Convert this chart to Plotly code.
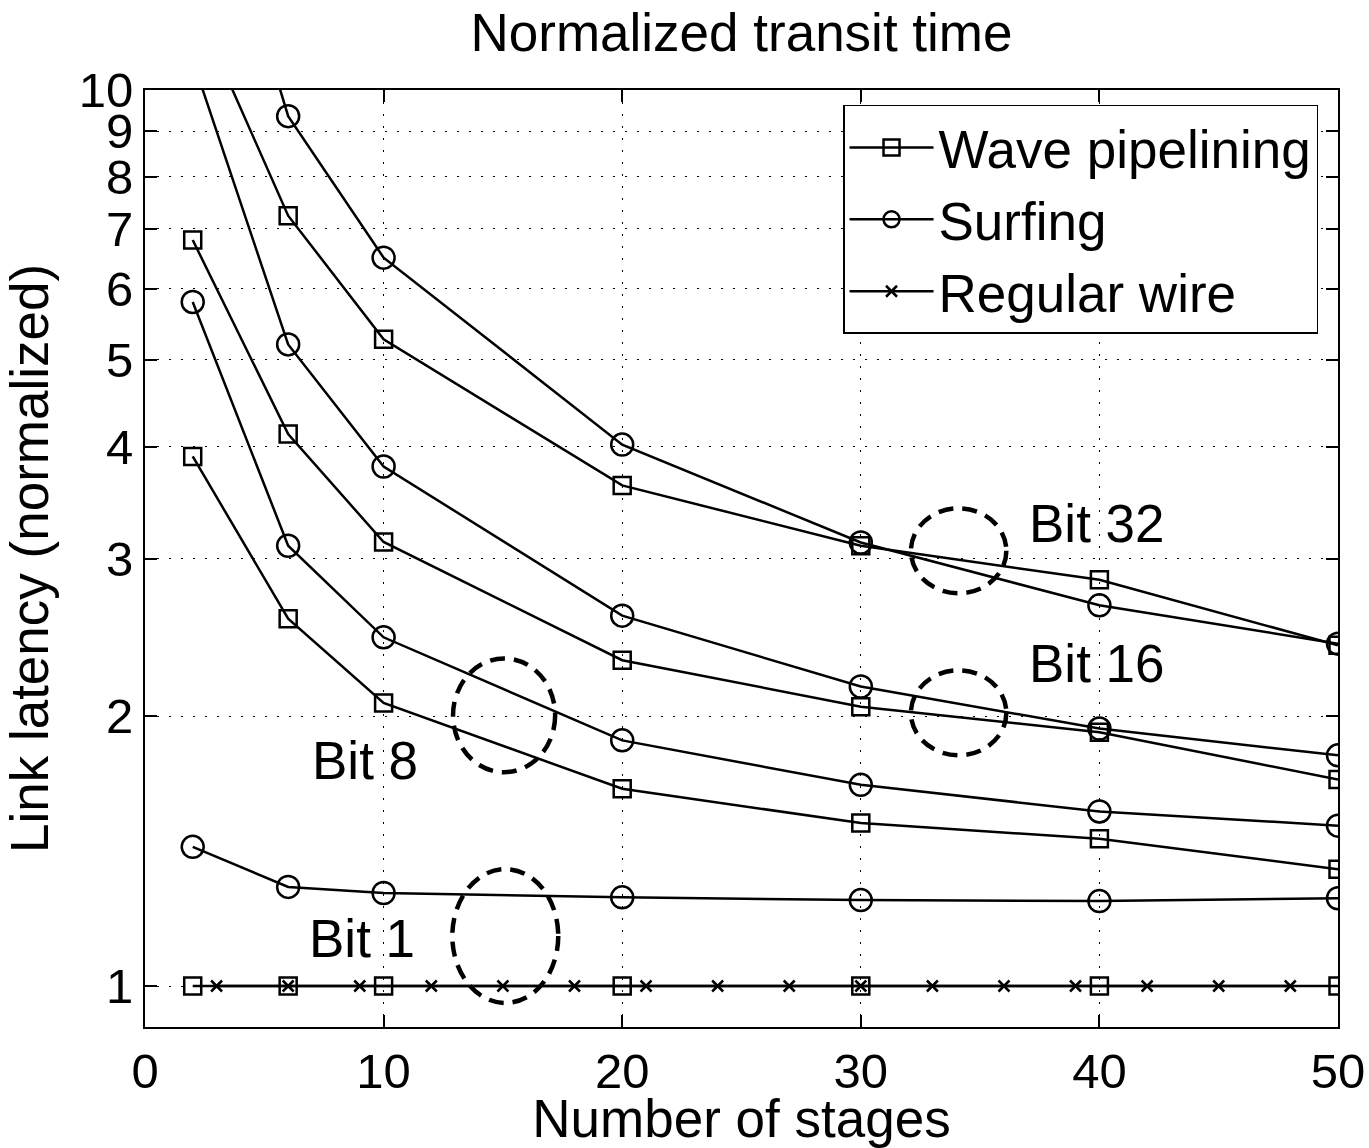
import math
import plotly.graph_objects as go

# ---------------- data ----------------
stages = [2, 6, 10, 20, 30, 40, 50]

wave_bit1 = [1.0, 1.0, 1.0, 1.0, 1.0, 1.0, 1.0]
wave_bit8 = [3.9, 2.57, 2.07, 1.66, 1.52, 1.46, 1.35]
wave_bit16 = [6.8, 4.13, 3.13, 2.31, 2.05, 1.92, 1.70]
wave_bit32 = [12.6, 7.24, 5.27, 3.62, 3.10, 2.84, 2.40]

surf_bit1 = [1.43, 1.29, 1.27, 1.256, 1.247, 1.244, 1.253]
surf_bit8 = [5.8, 3.10, 2.45, 1.88, 1.677, 1.566, 1.51]
surf_bit16 = [10.8, 5.2, 3.8, 2.59, 2.159, 1.938, 1.809]
surf_bit32 = [21.0, 9.35, 6.5, 4.02, 3.126, 2.66, 2.41]

wire_stages = [3, 6, 9, 12, 15, 18, 21, 24, 27, 30, 33, 36, 39, 42, 45, 48]
wire_latency = [1.0] * len(wire_stages)

x_ticks = [0, 10, 20, 30, 40, 50]
y_ticks = [1, 2, 3, 4, 5, 6, 7, 8, 9, 10]
y_range = [0.9, 10]

# group labels: (text, x, y)
group_labels = [("Bit 32", 39.9, 3.28), ("Bit 16", 39.9, 2.29),
                ("Bit 8", 9.2, 1.786), ("Bit 1", 9.1, 1.131)]
# dashed ellipses: (center x, center y, half width in x units, half height in decades)
group_rings = [(34.1, 3.06, 2.0, 0.0474), (34.1, 2.018, 2.0, 0.0474),
               (15.05, 2.005, 2.14, 0.0635), (15.1, 1.137, 2.22, 0.0747)]

FONT = "Liberation Sans, Arial, Helvetica, sans-serif"
BLACK = "black"

fig = go.Figure()

wave_series = [wave_bit32, wave_bit16, wave_bit8, wave_bit1]
surf_series = [surf_bit32, surf_bit16, surf_bit8, surf_bit1]

for i, ys in enumerate(wave_series):
    fig.add_trace(go.Scatter(
        x=stages, y=ys, mode="lines+markers",
        name="Wave pipelining", legendgroup="wave", showlegend=(i == 0),
        line=dict(color=BLACK, width=2.5),
        marker=dict(symbol="square-open", size=17, color=BLACK,
                    line=dict(color=BLACK, width=2.5)),
    ))

for i, ys in enumerate(surf_series):
    fig.add_trace(go.Scatter(
        x=stages, y=ys, mode="lines+markers",
        name="Surfing", legendgroup="surf", showlegend=(i == 0),
        line=dict(color=BLACK, width=2.5),
        marker=dict(symbol="circle-open", size=22, color=BLACK,
                    line=dict(color=BLACK, width=2.5)),
    ))

fig.add_trace(go.Scatter(
    x=wire_stages, y=wire_latency, mode="lines+markers",
    name="Regular wire", legendgroup="wire",
    line=dict(color=BLACK, width=2.5),
    marker=dict(symbol="x-thin-open", size=11, color=BLACK,
                line=dict(color=BLACK, width=2.5)),
))

# dashed ellipses in y-domain coordinates
lo, hi = math.log10(y_range[0]), math.log10(y_range[1])
def to_dom(logv):
    return (logv - lo) / (hi - lo)

for cx, cy, hw, hh in group_rings:
    lc = math.log10(cy)
    fig.add_shape(type="circle", xref="x", yref="y domain",
                  x0=cx - hw, x1=cx + hw,
                  y0=to_dom(lc - hh), y1=to_dom(lc + hh),
                  line=dict(color=BLACK, width=4.5, dash="15px,9px"))

for txt, tx, ty in group_labels:
    fig.add_annotation(x=tx, y=math.log10(ty), xref="x", yref="y",
                       text=txt, showarrow=False,
                       font=dict(family=FONT, size=53, color=BLACK))

axis_common = dict(
    showline=True, linecolor=BLACK, linewidth=2, mirror="ticks",
    ticks="inside", ticklen=12, tickwidth=1.5, tickcolor=BLACK,
    showgrid=True, gridcolor=BLACK, gridwidth=1.2, griddash="1.5px,10.5px",
    zeroline=False, automargin=False,
    tickfont=dict(family=FONT, size=49, color=BLACK),
)

fig.update_layout(
    width=1369, height=1148,
    margin=dict(l=145, r=31, t=90, b=121, autoexpand=False),
    paper_bgcolor="white", plot_bgcolor="white",
    font=dict(family=FONT, color=BLACK),
    title=dict(text="Normalized transit time", x=0.5, xref="paper",
               y=0.972, yref="container", yanchor="middle",
               font=dict(family=FONT, size=53, color=BLACK)),
    xaxis=dict(range=[0, 50], tickvals=x_ticks,
               title=dict(text="Number of stages", standoff=2,
                          font=dict(family=FONT, size=53, color=BLACK)),
               **axis_common),
    yaxis=dict(type="log", range=[lo, hi], tickvals=y_ticks,
               ticktext=[str(v) for v in y_ticks],
               title=dict(text="Link latency (normalized)", standoff=16,
                          font=dict(family=FONT, size=53, color=BLACK)),
               **axis_common),
    legend=dict(x=0.5851, y=0.984, xanchor="left", yanchor="top",
                bgcolor="white", bordercolor=BLACK, borderwidth=1.5,
                itemwidth=84, tracegroupgap=0,
                font=dict(family=FONT, size=53, color=BLACK)),
    showlegend=True,
)

fig.write_html("out.html")
